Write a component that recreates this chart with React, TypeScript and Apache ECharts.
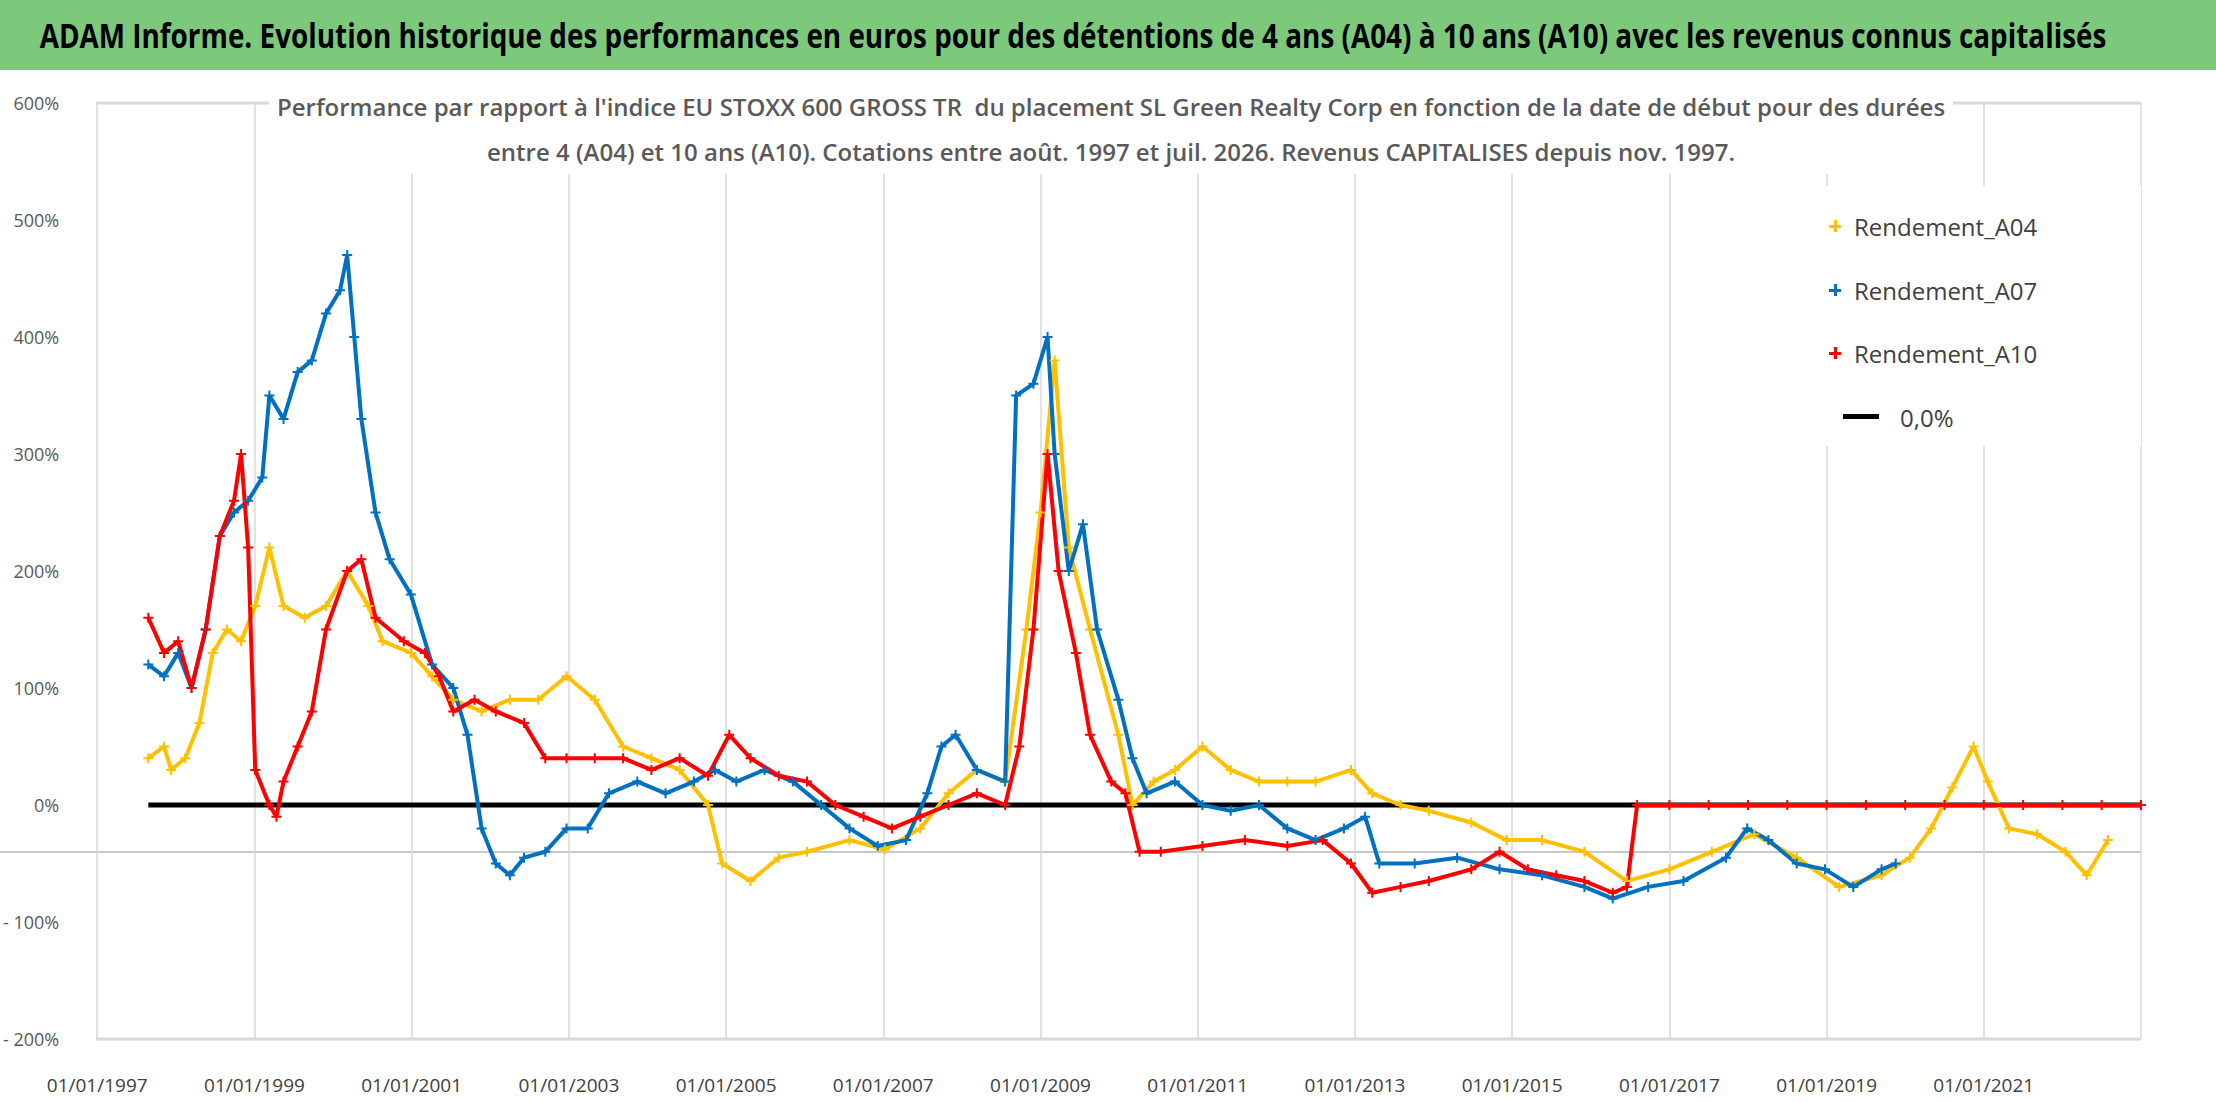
import React, { useEffect, useRef } from "react";
import * as echarts from "echarts";

const xTicks = [1997, 1999, 2001, 2003, 2005, 2007, 2009, 2011, 2013, 2015, 2017, 2019, 2021];
const yTicks = [-200, -100, 0, 100, 200, 300, 400, 500, 600];

const a04Years = [1997.65,1997.85,1997.94,1998.12,1998.3,1998.47,1998.65,1998.83,1999.01,1999.19,1999.37,1999.64,1999.91,2000.18,2000.45,2000.63,2000.99,2001.26,2001.53,2001.89,2002.25,2002.61,2002.97,2003.33,2003.69,2004.05,2004.41,2004.77,2004.95,2005.31,2005.67,2006.03,2006.57,2007.02,2007.47,2007.83,2008.19,2008.55,2008.82,2009.0,2009.18,2009.36,2009.63,2009.99,2010.17,2010.44,2010.71,2011.06,2011.42,2011.78,2012.14,2012.5,2012.95,2013.22,2013.58,2013.94,2014.48,2014.93,2015.38,2015.92,2016.46,2017.0,2017.54,2018.08,2018.62,2019.16,2019.7,2020.06,2020.33,2020.6,2020.87,2021.05,2021.32,2021.68,2022.04,2022.31,2022.58];
const a04Values = [40,50,30,40,70,130,150,140,170,220,170,160,170,200,170,140,130,110,90,80,90,90,110,90,50,40,30,0,-50,-65,-45,-40,-30,-38,-20,10,30,20,150,250,380,220,150,60,0,20,30,50,30,20,20,20,30,10,0,-5,-15,-30,-30,-40,-65,-55,-40,-25,-45,-70,-60,-45,-20,15,50,20,-20,-25,-40,-60,-30];

const a07Years = [1997.65,1997.85,1998.03,1998.2,1998.38,1998.56,1998.74,1998.92,1999.1,1999.19,1999.37,1999.55,1999.73,1999.91,2000.09,2000.18,2000.27,2000.36,2000.54,2000.72,2000.99,2001.26,2001.53,2001.71,2001.89,2002.07,2002.25,2002.43,2002.7,2002.97,2003.24,2003.51,2003.87,2004.23,2004.59,2004.86,2005.13,2005.49,2005.85,2006.21,2006.57,2006.93,2007.29,2007.56,2007.74,2007.92,2008.19,2008.55,2008.69,2008.91,2009.09,2009.18,2009.36,2009.54,2009.72,2009.99,2010.17,2010.35,2010.71,2011.06,2011.42,2011.78,2012.14,2012.5,2012.86,2013.13,2013.31,2013.76,2014.3,2014.84,2015.38,2015.92,2016.28,2016.73,2017.18,2017.72,2017.99,2018.26,2018.62,2018.98,2019.34,2019.7,2019.88];
const a07Values = [120,110,130,100,150,230,250,260,280,350,330,370,380,420,440,470,400,330,250,210,180,120,100,60,-20,-50,-60,-45,-40,-20,-20,10,20,10,20,30,20,30,20,0,-20,-35,-30,10,50,60,30,20,350,360,400,300,200,240,150,90,40,10,20,0,-5,0,-20,-30,-20,-10,-50,-50,-45,-55,-60,-70,-80,-70,-65,-45,-20,-30,-50,-55,-70,-55,-50];

const a10Years = [1997.65,1997.85,1998.03,1998.2,1998.38,1998.56,1998.74,1998.83,1998.92,1999.01,1999.19,1999.28,1999.37,1999.55,1999.73,1999.91,2000.18,2000.36,2000.54,2000.9,2001.17,2001.35,2001.53,2001.8,2002.07,2002.43,2002.7,2002.97,2003.33,2003.69,2004.05,2004.41,2004.77,2005.04,2005.31,2005.67,2006.03,2006.39,2006.75,2007.11,2007.47,2007.83,2008.19,2008.55,2008.73,2008.91,2009.09,2009.23,2009.45,2009.63,2009.9,2010.08,2010.26,2010.53,2011.06,2011.6,2012.14,2012.59,2012.95,2013.22,2013.58,2013.94,2014.48,2014.84,2015.2,2015.56,2015.92,2016.28,2016.46,2016.59,2017.0,2017.5,2018.0,2018.5,2019.0,2019.5,2020.0,2020.5,2021.0,2021.5,2022.0,2022.5,2023.0];
const a10Values = [160,130,140,100,150,230,260,300,220,30,0,-10,20,50,80,150,200,210,160,140,130,110,80,90,80,70,40,40,40,40,30,40,25,60,40,25,20,0,-10,-20,-10,0,10,0,50,150,300,200,130,60,20,10,-40,-40,-35,-30,-35,-30,-50,-75,-70,-65,-55,-40,-55,-60,-65,-75,-70,0,0,0,0,0,0,0,0,0,0,0,0,0,0];

const zeroYears = [1997.65, 2023.0];
const zeroValues = [0, 0];

const PLUS = "path://M4,0h2v4h4v2h-4v4h-2v-4h-4v-2h4z";

const zip = (xs: number[], ys: number[]) => xs.map((x, i) => [x, ys[i]]);

export default function App() {
  const ref = useRef<HTMLDivElement>(null);
  useEffect(() => {
    document.body.style.margin = "0";
    const chart = echarts.init(ref.current!, null, { renderer: "svg" });
    const font = "'Open Sans', sans-serif";
    const mk = (name: string, color: string, data: number[][]) => ({
      name, type: "line", data, symbol: PLUS, symbolSize: 10, showAllSymbol: true,
      itemStyle: { color }, lineStyle: { color, width: 4 }, z: 3,
    });
    const legendItems = [
      { label: "Rendement_A04", color: "#FFC000", y: 226 },
      { label: "Rendement_A07", color: "#0070C0", y: 290 },
      { label: "Rendement_A10", color: "#FF0000", y: 353 },
    ];
    const graphics: any[] = [
      { type: "rect", shape: { x: 0, y: 0, width: 2216, height: 70 }, style: { fill: "#7DC97B" }, z: 0 },
      { type: "text", x: 1073, y: 35, scaleX: 0.82, style: { text: "ADAM Informe. Evolution historique des performances en euros pour des détentions de 4 ans (A04) à 10 ans (A10) avec les revenus connus capitalisés", font: `bold 34px ${font}`, fill: "#000", align: "center", verticalAlign: "middle" } },
      { type: "line", shape: { x1: 0, y1: 852, x2: 2141, y2: 852 }, style: { stroke: "#c8c8c8", lineWidth: 2 } },
      { type: "line", shape: { x1: 96, y1: 103, x2: 2141, y2: 103 }, style: { stroke: "#d9d9d9", lineWidth: 3 } },
      { type: "line", shape: { x1: 96, y1: 1039, x2: 2141, y2: 1039 }, style: { stroke: "#d9d9d9", lineWidth: 3 } },
      { type: "rect", shape: { x: 1815, y: 186, width: 326, height: 260 }, style: { fill: "#fff" }, z: 5 },
    ];
    legendItems.forEach((it) => {
      graphics.push({ type: "rect", shape: { x: 1829, y: it.y - 1, width: 12, height: 3 }, style: { fill: it.color }, z: 6 });
      graphics.push({ type: "rect", shape: { x: 1834, y: it.y - 6, width: 3, height: 12 }, style: { fill: it.color }, z: 6 });
      graphics.push({ type: "text", x: 1854, y: it.y, style: { text: it.label, font: `24px ${font}`, fill: "#404040", verticalAlign: "middle" }, z: 6 });
    });
    graphics.push({ type: "rect", shape: { x: 1843, y: 414, width: 36, height: 5 }, style: { fill: "#000" }, z: 6 });
    graphics.push({ type: "text", x: 1900, y: 417, style: { text: "0,0%", font: `24px ${font}`, fill: "#404040", verticalAlign: "middle" }, z: 6 });

    chart.setOption({
      animation: false,
      backgroundColor: "#fff",
      title: {
        text: "Performance par rapport à l'indice EU STOXX 600 GROSS TR  du placement SL Green Realty Corp en fonction de la date de début pour des durées\nentre 4 (A04) et 10 ans (A10). Cotations entre août. 1997 et juil. 2026. Revenus CAPITALISES depuis nov. 1997.",
        left: 1103, top: 84, textAlign: "center",
        backgroundColor: "#fff", padding: [0, 8],
        textStyle: { fontFamily: font, fontSize: 24, fontWeight: 600, color: "#595959", lineHeight: 45 },
      },
      grid: { left: 96, right: 75, top: 103, bottom: 63 },
      xAxis: {
        type: "value", min: 1997, max: 2023, interval: 2,
        axisLine: { show: false }, axisTick: { show: false },
        splitLine: { show: true, lineStyle: { color: "#d9d9d9", width: 1.5 } },
        axisLabel: { formatter: (v: number) => (xTicks.includes(v) ? `01/01/${v}` : ""), color: "#404040", fontFamily: font, fontSize: 19, margin: 36 },
      },
      yAxis: {
        type: "value", min: -200, max: 600, interval: 100,
        axisLine: { show: false }, axisTick: { show: false },
        splitLine: { show: false },
        axisLabel: { formatter: (v: number) => (yTicks.includes(v) ? (v < 0 ? `- ${-v}%` : `${v}%`) : ""), color: "#595959", fontFamily: font, fontSize: 18, margin: 38 },
      },
      graphic: graphics,
      series: [
        { name: "0,0%", type: "line", data: zip(zeroYears, zeroValues), symbol: "none", lineStyle: { color: "#000", width: 5 }, z: 2 },
        mk("Rendement_A04", "#FFC000", zip(a04Years, a04Values)),
        mk("Rendement_A07", "#0070C0", zip(a07Years, a07Values)),
        mk("Rendement_A10", "#FF0000", zip(a10Years, a10Values)),
      ],
    });
    return () => chart.dispose();
  }, []);
  return <div ref={ref} style={{ width: 2216, height: 1102, position: "absolute", left: 0, top: 0 }} />;
}
